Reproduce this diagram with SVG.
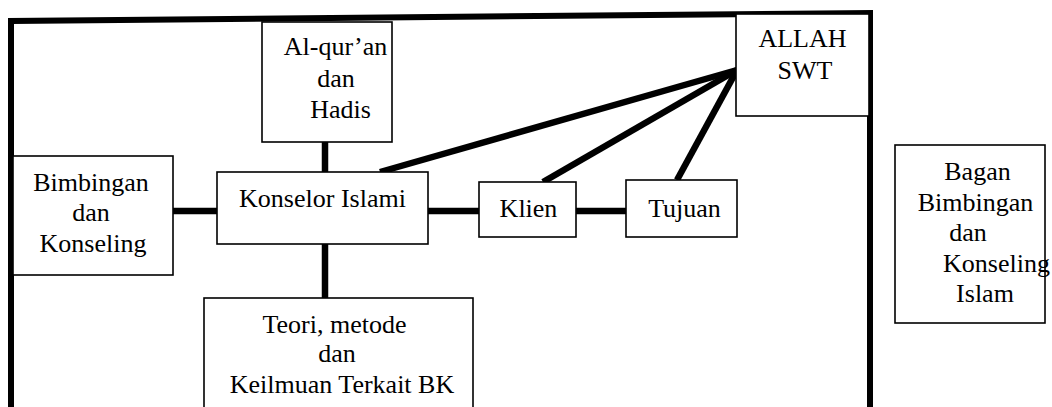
<svg xmlns="http://www.w3.org/2000/svg" width="1052" height="407" viewBox="0 0 1052 407">
<style>
.box{fill:#fff;stroke:#000;stroke-width:1.6}
.c{stroke:#000;stroke-width:6.5;fill:none;stroke-linecap:butt}
.frame{stroke:#000;stroke-width:6;fill:none;stroke-linejoin:miter}
</style>
<rect width="1052" height="407" fill="#fff"/>
<g id="frame">
<path class="frame" d="M11,407 L11,21 L870,13 L870,407"/>
</g>
<g id="connectors">
<line class="c" x1="325" y1="142" x2="325" y2="172"/>
<line class="c" x1="325" y1="244" x2="325" y2="298"/>
<line class="c" x1="173" y1="211" x2="217" y2="211"/>
<line class="c" x1="428" y1="211" x2="479" y2="211"/>
<line class="c" x1="576" y1="211" x2="626" y2="211"/>
<line class="c" x1="737" y1="70" x2="380" y2="172"/>
<line class="c" x1="737" y1="70" x2="543" y2="182"/>
<line class="c" x1="737" y1="70" x2="677" y2="180"/>
</g>
<g font-family="Liberation Serif, Times New Roman, DejaVu Serif, serif" font-size="26" fill="#000" text-anchor="middle">
<g id="alquran">
<rect class="box" x="262" y="22" width="130" height="120"/>
<text x="335.5" y="55">Al-qur’an</text>
<text x="336" y="87">dan</text>
<text x="340.5" y="118">Hadis</text>
</g>
<g id="allah">
<rect class="box" x="736" y="14" width="133" height="102"/>
<text x="802.5" y="47">ALLAH</text>
<text x="805" y="79">SWT</text>
</g>
<g id="bimbingan">
<rect class="box" x="13" y="156" width="160" height="119"/>
<text x="91" y="191">Bimbingan</text>
<text x="91" y="221">dan</text>
<text x="93" y="252">Konseling</text>
</g>
<g id="konselor">
<rect class="box" x="217" y="172" width="211" height="72"/>
<text x="322.5" y="207">Konselor Islami</text>
</g>
<g id="klien">
<rect class="box" x="479" y="182" width="97" height="55"/>
<text x="528.5" y="217">Klien</text>
</g>
<g id="tujuan">
<rect class="box" x="626" y="180" width="111" height="57"/>
<text x="684.5" y="217">Tujuan</text>
</g>
<g id="teori">
<rect class="box" x="204" y="298" width="269" height="120"/>
<text x="334.5" y="333">Teori, metode</text>
<text x="337" y="362">dan</text>
<text x="342" y="393">Keilmuan Terkait BK</text>
</g>
<g id="bagan">
<rect class="box" x="895" y="145" width="150" height="178"/>
<text x="977.5" y="180">Bagan</text>
<text x="975.5" y="211">Bimbingan</text>
<text x="968" y="241">dan</text>
<text x="996.5" y="272">Konseling</text>
<text x="985" y="302">Islam</text>
</g>
</g>
</svg>
